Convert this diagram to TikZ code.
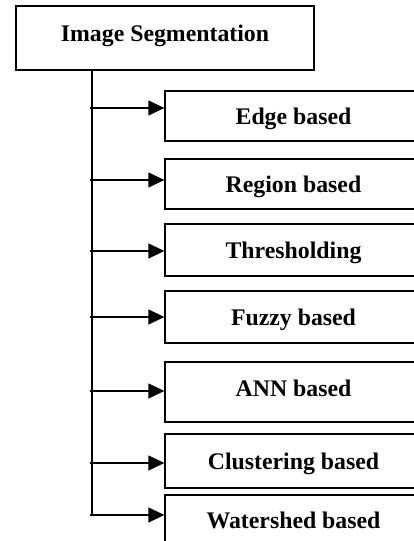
\documentclass[tikz,border=0pt]{standalone}
\usepackage{fontspec}
\setmainfont{Liberation Serif}
\usetikzlibrary{arrows.meta}
\begin{document}
\begin{tikzpicture}[x=1pt,y=-1pt,
  box/.style={draw, line width=1.3pt, inner sep=0pt, minimum width=257pt,
    text height=16pt, text depth=0pt, font=\fontsize{23.8}{28}\selectfont\bfseries},
  arr/.style={line width=1.3pt, -{Triangle[length=16pt,width=15pt]}},
  trunk/.style={line width=1.3pt}]
\clip (0,0) rectangle (414,541);
\fill[white] (0,0) rectangle (414,541);
\node[box, minimum width=298pt, minimum height=64pt, text depth=10pt] (top) at (165,38) {Image Segmentation};
\node[box, minimum height=50pt] (b1) at (293.5,116) {Edge based};
\node[box, minimum height=50pt] (b2) at (293.5,184) {Region based};
\node[box, minimum height=52pt] (b3) at (293.5,250) {Thresholding};
\node[box, minimum height=52pt] (b4) at (293.5,317) {Fuzzy based};
\node[box, minimum height=60pt, text depth=7pt] (b5) at (293.5,392) {ANN based};
\node[box, minimum height=54pt] (b6) at (293.5,461) {Clustering based};
\node[box, minimum height=50pt] (b7) at (293.5,520) {Watershed based};
\coordinate (s1) at (90,108);
\coordinate (s2) at (90,180);
\coordinate (s3) at (90,251);
\coordinate (s4) at (90,317);
\coordinate (s5) at (90,391);
\coordinate (s6) at (90,463);
\coordinate (s7) at (90,515);
\coordinate (t0) at (92,70);
\coordinate (t7) at (92,515);
\draw[trunk] (t0) -- (t7);
\foreach \i in {1,...,7} {
  \draw[arr] (s\i) -- (s\i -| b\i.west);
}
\end{tikzpicture}
\end{document}
